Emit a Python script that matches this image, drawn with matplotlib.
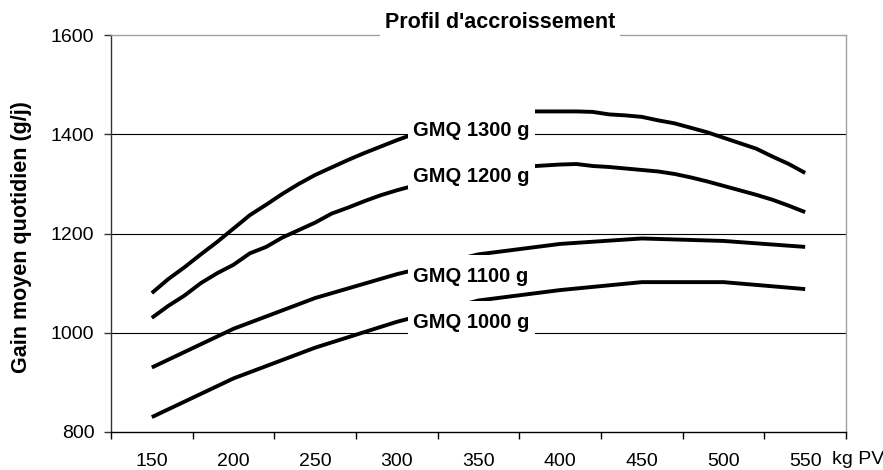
import matplotlib
matplotlib.use("Agg")
import matplotlib.pyplot as plt
from matplotlib.ticker import FixedLocator
from matplotlib.patches import Rectangle
from matplotlib.transforms import IdentityTransform

plt.rcParams['font.family'] = ['Liberation Sans', 'DejaVu Sans']

# ---- data ----
x_fine = [150, 160, 170, 180, 190, 200, 210, 220, 230, 240, 250, 260, 270, 280,
          290, 300, 310, 320, 330, 340, 350, 360, 370, 380, 390, 400, 410, 420,
          430, 440, 450, 460, 470, 480, 490, 500, 510, 520, 530, 540, 550]
gmq1300 = [1080, 1108, 1132, 1158, 1183, 1210, 1237, 1258, 1280, 1300, 1318, 1333,
           1348, 1362, 1375, 1388, 1400, 1412, 1422, 1431, 1438, 1442, 1445, 1446,
           1446, 1446, 1446, 1445, 1440, 1438, 1435, 1428, 1422, 1413, 1404, 1393,
           1382, 1371, 1355, 1340, 1322]
gmq1200 = [1030, 1054, 1075, 1100, 1120, 1137, 1160, 1173, 1192, 1207, 1222, 1240,
           1252, 1265, 1277, 1287, 1296, 1305, 1313, 1320, 1326, 1330, 1333, 1335,
           1337, 1339, 1340, 1336, 1334, 1331, 1328, 1325, 1320, 1313, 1305, 1296,
           1287, 1278, 1268, 1256, 1243]
x_coarse = [150, 200, 250, 300, 350, 400, 450, 500, 550]
gmq1100 = [930, 1008, 1070, 1118, 1158, 1179, 1190, 1185, 1173]
gmq1000 = [830, 908, 970, 1022, 1065, 1086, 1102, 1102, 1088]

series = [
    ("GMQ 1300 g", x_fine, gmq1300, 1408),
    ("GMQ 1200 g", x_fine, gmq1200, 1314),
    ("GMQ 1100 g", x_coarse, gmq1100, 1114),
    ("GMQ 1000 g", x_coarse, gmq1000, 1021),
]
x_labels = ["150", "200", "250", "300", "350", "400", "450", "500", "550"]
y_ticks = [800, 1000, 1200, 1400, 1600]

W, H = 883, 470
fig = plt.figure(figsize=(W / 100, H / 100), dpi=100)
ax = fig.add_axes([111 / W, 1 - 432 / H, (846 - 111) / W, (432 - 35) / H])

ax.set_xlim(125, 575)
ax.set_ylim(800, 1600)

for y in y_ticks[1:-1]:
    ax.axhline(y, color='black', lw=0.8, zorder=1)

labels = []
for name, xs, ys, ly in series:
    ax.plot(xs, ys, color='black', lw=2.8, solid_capstyle='butt', zorder=3)
    labels.append(ax.text(310, ly, name, ha='left', va='center', fontsize=14.5,
                          fontweight='bold', zorder=6))

ax.set_yticks(y_ticks)
ax.tick_params(axis='y', direction='out', length=5, width=1, pad=7, labelsize=14,
               color='#333333')

ax.xaxis.set_major_locator(FixedLocator([float(v) for v in x_labels]))
ax.set_xticklabels(x_labels)
ax.xaxis.set_minor_locator(FixedLocator(list(range(125, 576, 50))))
ax.tick_params(axis='x', which='major', length=0, pad=15, labelsize=14)
ax.tick_params(axis='x', which='minor', direction='out', length=5, width=1,
               color='black')

ax.spines['left'].set_color('#333333')
ax.spines['bottom'].set_color('black')
ax.spines['top'].set_color('#a0a0a0')
ax.spines['right'].set_color('#a0a0a0')
for s in ax.spines.values():
    s.set_linewidth(1)

fig.text(22 / W, 1 - 237 / H, "Gain moyen quotidien (g/j)", rotation=90,
         ha='center', va='center', fontsize=15.5, fontweight='bold')
fig.text(500 / W, 1 - 23 / H, "Profil d'accroissement", ha='center', va='center',
         fontsize=15.5, fontweight='bold',
         bbox=dict(boxstyle='square,pad=0.22', fc='white', ec='none'))
fig.text(832 / W, 1 - 460 / H, "kg PV", ha='left', va='center', fontsize=14)

# white label boxes (asymmetric padding, in pixels) derived from text extents
fig.canvas.draw()
renderer = fig.canvas.get_renderer()
pad_x, pad_top, pad_bottom = 5, 12, 3
for t in labels:
    bb = t.get_window_extent(renderer)
    ax.add_patch(Rectangle((bb.x0 - pad_x, bb.y0 - pad_bottom),
                           bb.width + 2 * pad_x, bb.height + pad_top + pad_bottom,
                           transform=IdentityTransform(), facecolor='white',
                           edgecolor='none', zorder=5))

fig.savefig("out.png", dpi=100)
